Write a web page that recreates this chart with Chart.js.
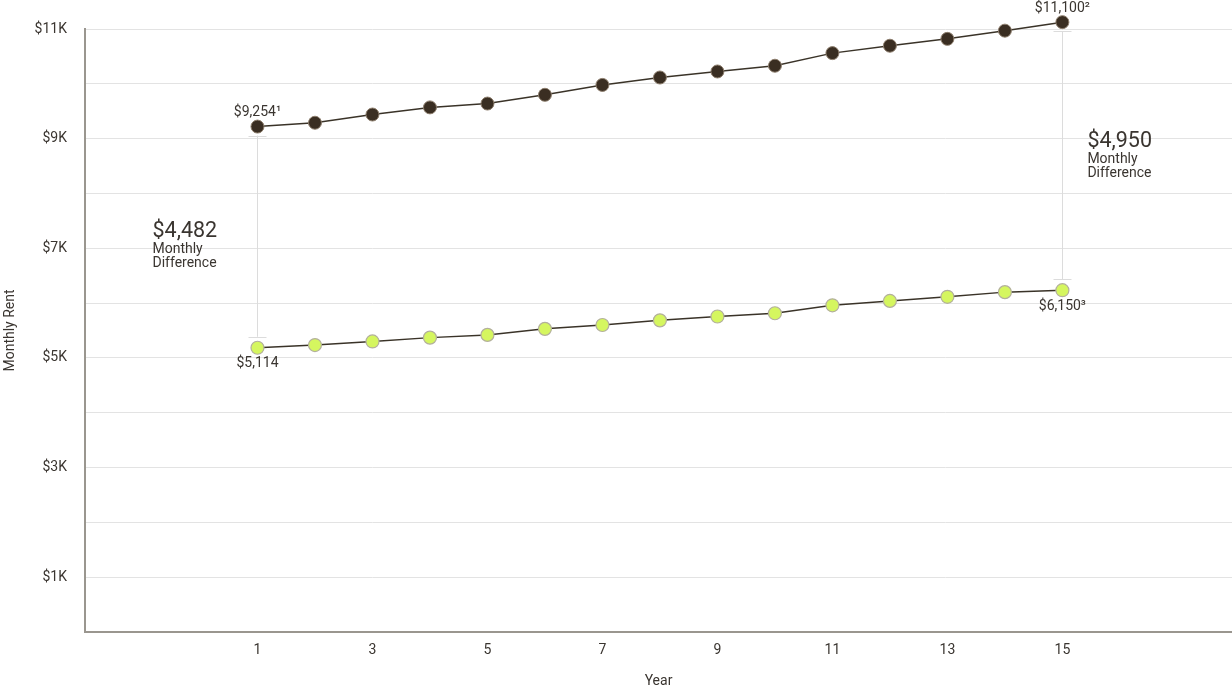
<!DOCTYPE html>
<html>
<head>
<meta charset="utf-8">
<script src="https://cdn.jsdelivr.net/npm/chart.js@4"></script>
<style>
  html, body { margin: 0; padding: 0; background: #ffffff; overflow: hidden; }
  #wrap { width: 1232px; height: 688px; position: relative; }
  #c { display: block; }
</style>
</head>
<body>
<div id="wrap"><canvas id="c" width="1232" height="688"></canvas></div>
<script>
// ---- data ----
const years = [1, 2, 3, 4, 5, 6, 7, 8, 9, 10, 11, 12, 13, 14, 15];
const upperRent = [9220, 9290, 9440, 9570, 9640, 9800, 9980, 10115, 10225, 10330, 10560, 10695, 10820, 10970, 11125];
const lowerRent = [5185, 5235, 5300, 5370, 5420, 5530, 5600, 5685, 5755, 5815, 5960, 6040, 6115, 6200, 6235];
const xTickValues = [1, 3, 5, 7, 9, 11, 13, 15];
const yTickLabels = { 1000: '$1K', 3000: '$3K', 5000: '$5K', 7000: '$7K', 9000: '$9K', 11000: '$11K' };
const pointLabelsUpper = { 1: '$9,254\u00B9', 15: '$11,100\u00B2' };
const pointLabelsLower = { 1: '$5,114', 15: '$6,150\u00B3' };
const diffYears = [1, 15];
const diffAmounts = ['$4,482', '$4,950'];
const diffCaption = ['Monthly', 'Difference'];

const FONT = "Roboto, 'Liberation Sans', Arial, sans-serif";
const TEXT = '#3a3530';

const annotations = {
  id: 'annotations',
  beforeDatasetsDraw(chart) {
    const { ctx } = chart;
    const xs = chart.scales.x, ys = chart.scales.y;
    ctx.save();
    ctx.strokeStyle = '#dcdcdc';
    ctx.lineWidth = 1;
    diffYears.forEach((yr) => {
      const i = years.indexOf(yr);
      const px = Math.round(xs.getPixelForValue(yr)) + 0.5;
      const top = ys.getPixelForValue(upperRent[i]) + 9;
      const bot = ys.getPixelForValue(lowerRent[i]) - 11;
      ctx.beginPath();
      ctx.moveTo(px, top); ctx.lineTo(px, bot);
      ctx.moveTo(px - 9, Math.round(top) + 0.5); ctx.lineTo(px + 9, Math.round(top) + 0.5);
      ctx.moveTo(px - 9, Math.round(bot) + 0.5); ctx.lineTo(px + 9, Math.round(bot) + 0.5);
      ctx.stroke();
    });
    ctx.restore();
  },
  afterDatasetsDraw(chart) {
    const { ctx } = chart;
    const xs = chart.scales.x, ys = chart.scales.y;
    ctx.save();
    ctx.fillStyle = TEXT;
    ctx.textBaseline = 'middle';
    ctx.textAlign = 'center';
    ctx.font = '14px ' + FONT;
    Object.keys(pointLabelsUpper).forEach((k) => {
      const yr = +k, i = years.indexOf(yr);
      ctx.fillText(pointLabelsUpper[k], xs.getPixelForValue(yr), ys.getPixelForValue(upperRent[i]) - 14);
    });
    Object.keys(pointLabelsLower).forEach((k) => {
      const yr = +k, i = years.indexOf(yr);
      ctx.fillText(pointLabelsLower[k], xs.getPixelForValue(yr), ys.getPixelForValue(lowerRent[i]) + 16);
    });
    // difference blocks
    const blocks = [
      { dx: -105, dy: -6 },
      { dx: 25, dy: -15 }
    ];
    ctx.textAlign = 'left';
    diffYears.forEach((yr, j) => {
      const i = years.indexOf(yr);
      const px = xs.getPixelForValue(yr) + blocks[j].dx;
      const mid = (ys.getPixelForValue(upperRent[i]) + ys.getPixelForValue(lowerRent[i])) / 2 + blocks[j].dy;
      ctx.font = '21.5px ' + FONT;
      ctx.fillText(diffAmounts[j], px, mid);
      ctx.font = '14px ' + FONT;
      ctx.fillText(diffCaption[0], px, mid + 18);
      ctx.fillText(diffCaption[1], px, mid + 32);
    });
    ctx.restore();
  }
};

new Chart(document.getElementById('c'), {
  type: 'line',
  data: {
    datasets: [
      {
        label: 'Upper',
        data: years.map((y, i) => ({ x: y, y: upperRent[i] })),
        borderColor: '#3a3328',
        borderWidth: 1.5,
        backgroundColor: '#3a2e22',
        pointBackgroundColor: '#3a2e22',
        pointBorderColor: '#8c7d6c',
        pointBorderWidth: 1,
        pointRadius: 6.5,
        pointHoverRadius: 6.5,
        tension: 0,
        clip: false
      },
      {
        label: 'Lower',
        data: years.map((y, i) => ({ x: y, y: lowerRent[i] })),
        borderColor: '#3a3328',
        borderWidth: 1.5,
        backgroundColor: '#d5f65f',
        pointBackgroundColor: '#d5f65f',
        pointBorderColor: '#b3b09c',
        pointBorderWidth: 1.2,
        pointRadius: 6.5,
        pointHoverRadius: 6.5,
        tension: 0,
        clip: false
      }
    ]
  },
  options: {
    responsive: false,
    animation: false,
    layout: { autoPadding: false, padding: { top: 29, left: 0, right: 0, bottom: 0 } },
    plugins: { legend: { display: false }, tooltip: { enabled: false } },
    scales: {
      x: {
        type: 'linear',
        min: -2,
        max: 17.95,
        afterBuildTicks: (s) => { s.ticks = xTickValues.map(v => ({ value: v })); },
        afterFit: (s) => { s.height = 56; },
        grid: { display: false, drawTicks: false },
        border: { display: true, color: '#9a968f', width: 2 },
        ticks: { padding: 10, color: TEXT, font: { family: FONT, size: 14 }, callback: (v) => String(v), maxRotation: 0, autoSkip: false },
        title: { display: true, text: 'Year', color: TEXT, font: { family: FONT, size: 14 }, padding: { top: 0, bottom: -2 } }
      },
      y: {
        min: 0,
        max: 11000,
        afterFit: (s) => { s.width = 85; },
        ticks: { stepSize: 1000, padding: 18, color: TEXT, font: { family: FONT, size: 14 }, callback: (v) => yTickLabels[v] || '' },
        grid: { color: '#e3e3e3', lineWidth: 1, drawTicks: false },
        border: { display: true, color: '#9a968f', width: 2 },
        title: { display: true, text: 'Monthly Rent', color: TEXT, font: { family: FONT, size: 14 }, padding: { top: 2, bottom: 0 } }
      }
    }
  },
  plugins: [annotations]
});
</script>
</body>
</html>
